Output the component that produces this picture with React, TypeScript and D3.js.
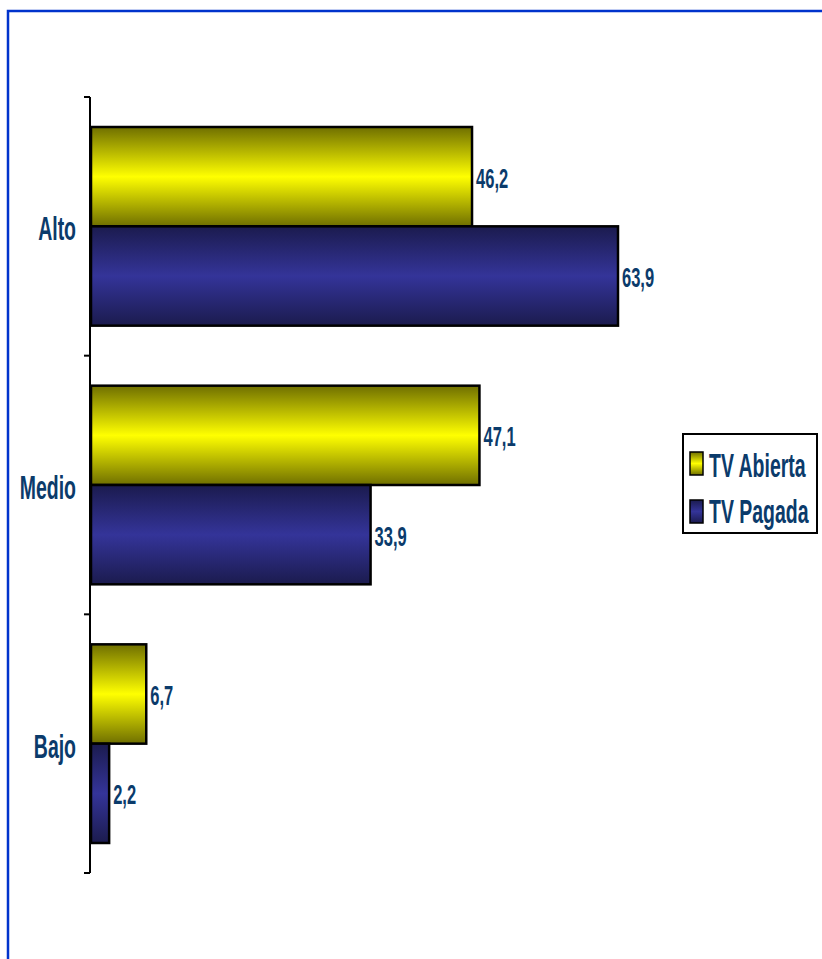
import React from "react";
import * as d3 from "d3";

const categories = ["Alto", "Medio", "Bajo"];
const seriesNames = ["TV Abierta", "TV Pagada"];
const tvAbierta = [46.2, 47.1, 6.7];
const tvPagada = [63.9, 33.9, 2.2];
const fmt = (v: number) => v.toFixed(1).replace(".", ",");

const W = 822;
const H = 959;
const FONT = "'Liberation Sans', Arial, sans-serif";
const TEXT = "#0b3b6b";
const SX = 0.59;

export default function App() {
  const y = d3.scaleBand<string>().domain(categories).range([97, 873]).paddingInner(0.232).paddingOuter(0.116);
  const x = d3.scaleLinear().domain([0, 63.9]).range([91, 618]);
  const inner = d3.scaleBand<number>().domain([0, 1]).range([0, y.bandwidth()]);
  const series = [tvAbierta, tvPagada];
  const fills = ["url(#gYellow)", "url(#gBlue)"];
  const step = y.step();
  const tickYs = d3.range(categories.length + 1).map((i) => 97 + i * step);

  return (
    <svg width={W} height={H} style={{ position: "absolute", left: 0, top: 0, background: "#fff" }}>
      <defs>
        <linearGradient id="gYellow" x1="0" y1="0" x2="0" y2="1">
          <stop offset="0" stopColor="#6f6f00" />
          <stop offset="0.5" stopColor="#ffff00" />
          <stop offset="1" stopColor="#6f6f00" />
        </linearGradient>
        <linearGradient id="gBlue" x1="0" y1="0" x2="0" y2="1">
          <stop offset="0" stopColor="#1b1b4e" />
          <stop offset="0.5" stopColor="#343499" />
          <stop offset="1" stopColor="#1b1b4e" />
        </linearGradient>
      </defs>
      <rect x={8} y={11} width={W + 20} height={H + 20} fill="none" stroke="#0033cc" strokeWidth={2.5} />

      {categories.map((c, ci) =>
        series.map((s, si) => {
          const by = (y(c) as number) + (inner(si) as number);
          const bh = inner.bandwidth();
          return (
            <g key={c + si}>
              <rect x={x(0)} y={by} width={x(s[ci]) - x(0)} height={bh} fill={fills[si]} stroke="#000" strokeWidth={2.5} />
              <text
                transform={`translate(${x(s[ci]) + 4},${by + bh / 2 + 11}) scale(${SX},1)`}
                fontFamily={FONT}
                fontWeight="bold"
                fontSize={28}
                fill={TEXT}
              >
                {fmt(s[ci])}
              </text>
            </g>
          );
        })
      )}

      <line x1={90} x2={90} y1={97} y2={873} stroke="#000" strokeWidth={2} />
      {tickYs.map((t, i) => (
        <line key={i} x1={84} x2={90} y1={t} y2={t} stroke="#000" strokeWidth={2} />
      ))}

      {categories.map((c) => (
        <text
          key={c}
          transform={`translate(76,${(y(c) as number) + y.bandwidth() / 2 + 14}) scale(${SX},1)`}
          textAnchor="end"
          fontFamily={FONT}
          fontWeight="bold"
          fontSize={33}
          fill={TEXT}
        >
          {c}
        </text>
      ))}

      <g>
        <rect x={683} y={434} width={134} height={99} fill="#fff" stroke="#000" strokeWidth={2} />
        {seriesNames.map((n, i) => (
          <g key={n}>
            <rect x={690} y={452 + i * 48} width={13} height={23} fill={fills[i]} stroke="#000" strokeWidth={1.5} />
            <text
              transform={`translate(709,${477 + i * 46}) scale(${SX},1)`}
              fontFamily={FONT}
              fontWeight="bold"
              fontSize={33}
              fill={TEXT}
            >
              {n}
            </text>
          </g>
        ))}
      </g>
    </svg>
  );
}
